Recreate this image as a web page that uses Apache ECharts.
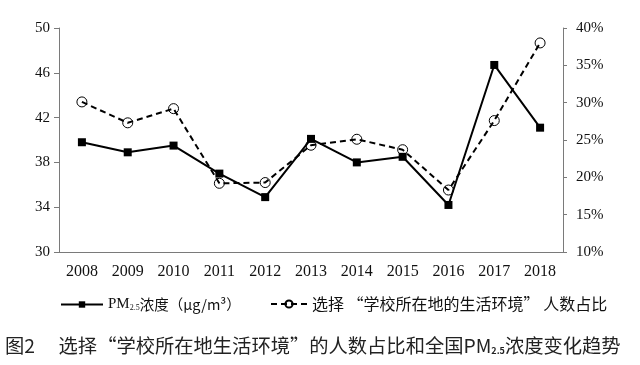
<!DOCTYPE html>
<html><head><meta charset="utf-8">
<script src="https://cdn.jsdelivr.net/npm/echarts@6/dist/echarts.min.js"></script>
<style>html,body{margin:0;padding:0;background:#fff}#c{width:640px;height:365px}</style>
</head><body><div id="c"></div>
<script>
const years = ['2008','2009','2010','2011','2012','2013','2014','2015','2016','2017','2018'];
const pm25 = [39.8, 38.9, 39.5, 37.0, 34.9, 40.1, 38.0, 38.5, 34.2, 46.7, 41.1];
const sharePct = [30.1, 27.3, 29.2, 19.2, 19.3, 24.3, 25.1, 23.7, 18.3, 27.6, 38.0];
const leftTicks = {min: 30, max: 50, interval: 4};
const rightTicks = {min: 10, max: 40, interval: 5};
const name1 = 'PM2.5浓度（μg/m³）';
const name2 = '选择 “学校所在地的生活环境” 人数占比';

const serif = '"Liberation Serif","Times New Roman",serif';
const cjk = '"Noto Sans CJK SC","Noto Sans",sans-serif';
const axisColor = '#7a7a7a';

const chart = echarts.init(document.getElementById('c'), null, {renderer: 'canvas'});
chart.setOption({
  animation: false,
  backgroundColor: '#fff',
  title: {
    left: 5, top: 336, padding: 0,
    text: '{a|图2\u3000 选择“学校所在地生活环境”的人数占比和全国PM}{s|2.5}{a|浓度变化趋势}',
    textStyle: {
      rich: {
        a: {fontFamily: cjk, fontSize: 19.3, color: '#222', fontWeight: 400},
        s: {fontFamily: cjk, fontSize: 9, color: '#222', verticalAlign: 'bottom', padding: [8,0,0,0]}
      }
    }
  },
  legend: [
    {
      data: [name1], left: 60, top: 297, padding: 0, itemWidth: 42, itemHeight: 8,
      formatter: () => '{a|PM}{s|2.5}{c|浓度（μg/m³）}',
      textStyle: {
        rich: {
          a: {fontFamily: serif, fontSize: 15, color: '#111'},
          s: {fontFamily: serif, fontSize: 8, color: '#111', verticalAlign: 'bottom', padding: [6,0,0,0]},
          c: {fontFamily: cjk, fontSize: 14.5, color: '#111'}
        }
      }
    },
    {
      data: [name2], left: 270, top: 296, padding: 0, itemWidth: 36, itemHeight: 9,
      textStyle: {fontFamily: cjk, fontSize: 16, color: '#111'}
    }
  ],
  grid: {left: 59, right: 77, top: 28, bottom: 113},
  xAxis: {
    type: 'category', data: years, boundaryGap: true,
    axisLine: {lineStyle: {color: axisColor, width: 1}},
    axisTick: {alignWithLabel: true, length: 5, lineStyle: {color: axisColor}},
    axisLabel: {fontFamily: serif, fontSize: 16, color: '#111', margin: 12}
  },
  yAxis: [
    {
      type: 'value', position: 'left', min: leftTicks.min, max: leftTicks.max, interval: leftTicks.interval,
      axisLine: {show: true, lineStyle: {color: axisColor}},
      axisTick: {show: true, length: 5, lineStyle: {color: axisColor}},
      splitLine: {show: false},
      axisLabel: {fontFamily: serif, fontSize: 15, color: '#111', margin: 9}
    },
    {
      type: 'value', position: 'right', min: rightTicks.min, max: rightTicks.max, interval: rightTicks.interval,
      axisLine: {show: true, lineStyle: {color: axisColor}},
      axisTick: {show: true, length: 4, lineStyle: {color: axisColor}},
      splitLine: {show: false},
      axisLabel: {fontFamily: serif, fontSize: 15, color: '#111', margin: 13, formatter: '{value}%'}
    }
  ],
  series: [
    {
      name: name1, type: 'line', yAxisIndex: 0, data: pm25,
      symbol: 'rect', symbolSize: 8,
      lineStyle: {color: '#000', width: 2},
      itemStyle: {color: '#000'}
    },
    {
      name: name2, type: 'line', yAxisIndex: 1, data: sharePct,
      symbol: 'circle', symbolSize: 10,
      lineStyle: {color: '#000', width: 2, type: [6, 4]},
      itemStyle: {color: 'rgba(255,255,255,0)', borderColor: '#000', borderWidth: 1}
    }
  ]
});
</script>
</body></html>
